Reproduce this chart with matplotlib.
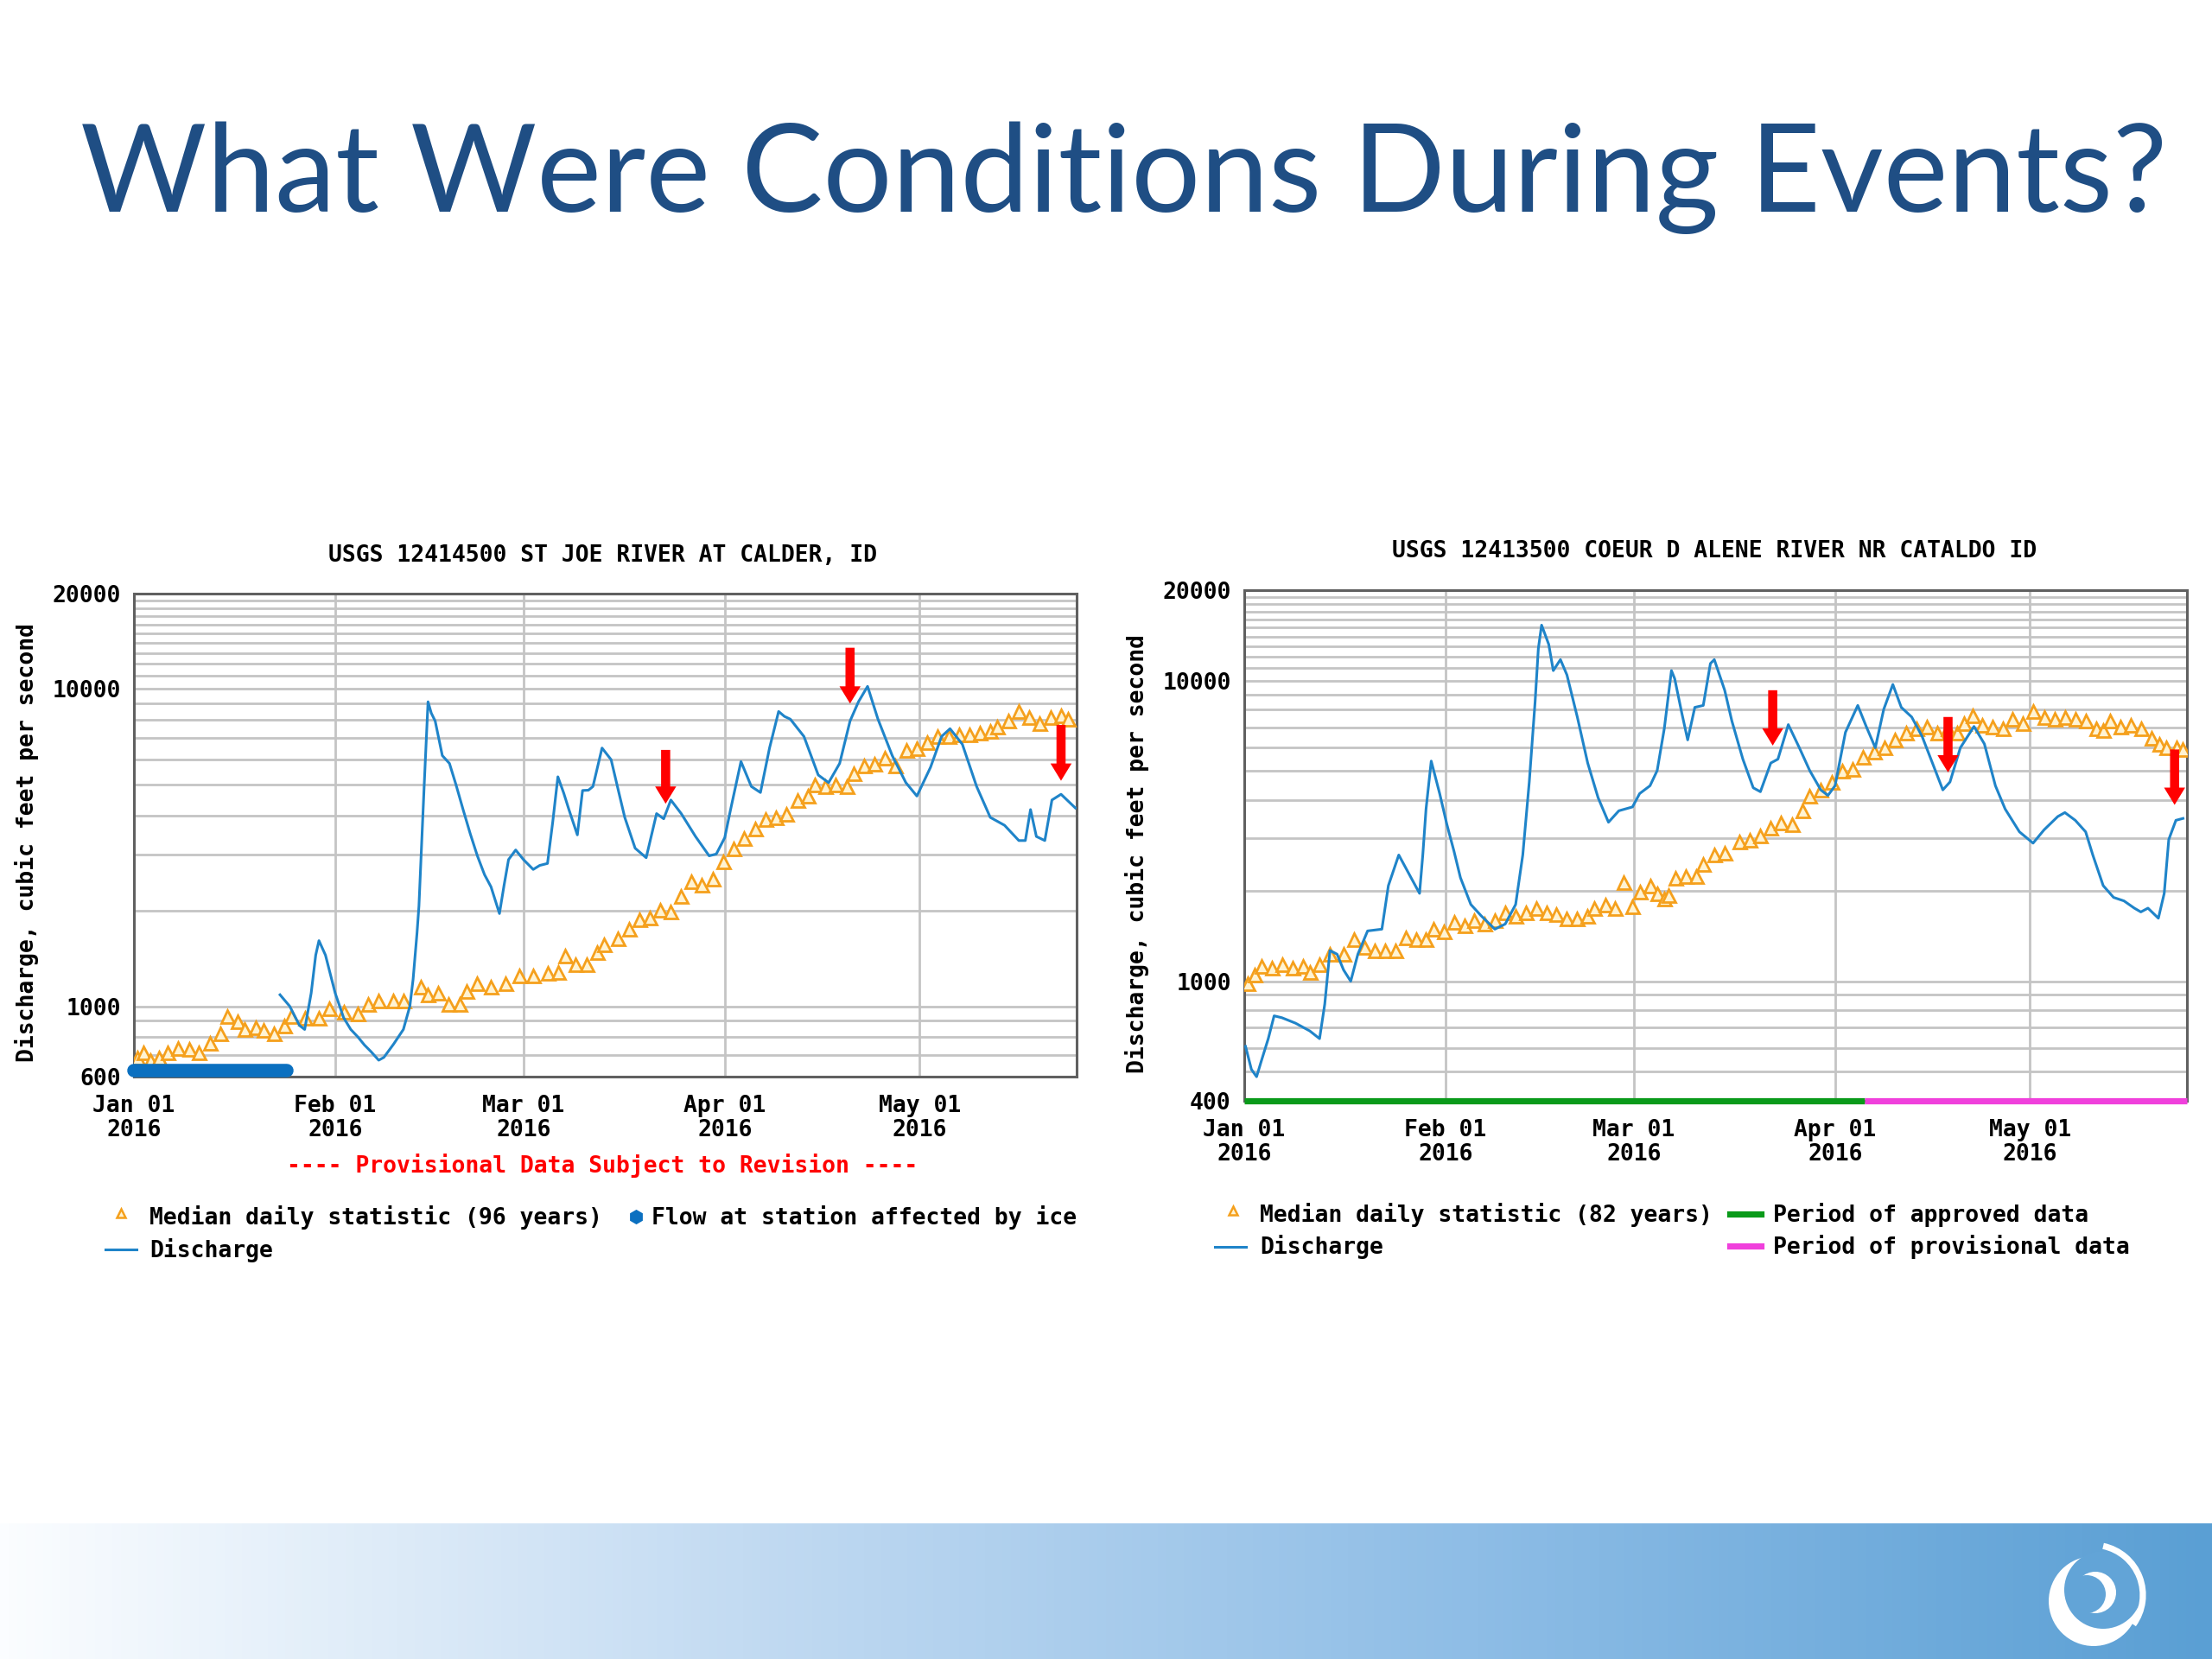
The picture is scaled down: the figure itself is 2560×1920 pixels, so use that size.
import numpy as np
import matplotlib.pyplot as plt
from matplotlib.lines import Line2D
from matplotlib.patches import Circle, Arc
from matplotlib.colors import LinearSegmentedColormap
from matplotlib.ticker import FixedLocator, NullFormatter

W, H = 2560, 1920
MONO = 'DejaVu Sans Mono'

# ---- St Joe River at Calder (days since Jan 01 2016, cfs)
joe_days = [22.5, 24.0, 25.5, 26.3, 27.3, 28.0, 28.5, 29.5, 31.0, 32.3, 33.4, 34.5, 35.5, 36.5,
            37.7, 38.5, 40.0, 41.5, 42.5, 43.0, 43.6, 43.9, 44.3, 44.7, 45.3, 45.8, 46.4, 47.5,
            48.6, 49.6, 50.7, 51.8, 52.9, 54.0, 55.0, 56.3, 57.0, 57.7, 58.8, 60.0, 61.5, 62.5,
            63.7, 64.5, 65.3, 66.2, 67.0, 68.3, 69.1, 70.0, 70.7, 72.1, 73.5, 74.5, 75.6, 77.2,
            78.9, 80.5, 81.6, 82.7, 84.3, 86.5, 88.6, 89.7, 91.0, 91.9, 93.5, 95.1, 96.5, 97.9,
            99.3, 100.2, 101.1, 103.2, 105.4, 107.0, 108.7, 110.3, 111.6, 113.0, 114.6, 116.8,
            118.9, 120.6, 122.7, 124.4, 125.7, 127.6, 129.8, 131.9, 134.1, 136.3, 137.3, 138.1,
            139.0, 140.3, 141.4, 142.8, 145.0]
joe_flow = [1087, 1000, 870, 845, 1100, 1450, 1610, 1450, 1100, 920, 845, 800, 755, 720,
            676, 690, 760, 845, 1000, 1216, 1700, 2070, 3200, 4930, 9120, 8400, 7930, 6170,
            5830, 5000, 4170, 3500, 2980, 2600, 2380, 1960, 2400, 2900, 3110, 2900, 2700, 2780,
            2820, 3800, 5290, 4700, 4170, 3470, 4790, 4800, 4930, 6520, 5990, 4900, 3940, 3150,
            2940, 4050, 3900, 4470, 4050, 3430, 2980, 3020, 3400, 4170, 5910, 4930, 4720, 6520,
            8500, 8200, 8040, 7090, 5360, 5070, 5830, 7930, 9120, 10200, 8040, 6170,
            5070, 4600, 5670, 7090, 7500, 6700, 4930, 3940, 3720, 3330, 3330, 4170,
            3430, 3330, 4470, 4660, 4220]
joe_med_days = [0.5, 1.4, 2.5, 3.8, 5.2, 6.8, 8.5, 10.0, 11.7, 13.3, 14.4, 16.0, 17.1, 18.7, 20.0,
                21.5, 23.1, 24.2, 26.3, 28.5, 30.1, 32.3, 34.5, 36.1, 37.7, 39.9, 41.5, 44.2,
                45.3, 46.9, 48.5, 50.2, 51.2, 52.9, 55.0, 57.2, 59.4, 61.5, 63.7, 65.3, 66.4,
                68.0, 69.7, 71.3, 72.4, 74.5, 76.2, 77.8, 79.4, 81.0, 82.7, 84.3, 85.9, 87.5,
                89.2, 90.8, 92.4, 94.0, 95.7, 97.3, 98.9, 100.5, 102.2, 103.8, 104.9, 106.5,
                108.1, 109.8, 110.8, 112.4, 114.1, 115.7, 117.3, 119.0, 120.6, 122.2, 123.8,
                125.5, 127.1, 128.7, 130.3, 131.9, 133.0, 134.7, 136.3, 137.9, 139.5, 141.2,
                142.8, 143.9]
joe_med = [690, 714, 676, 690, 714, 740, 733, 714, 767, 822, 933, 894, 845, 857, 840,
           822, 870, 933, 920, 920, 986, 960, 950, 1015, 1045, 1045, 1045, 1150,
           1087, 1100, 1015, 1015, 1113, 1180, 1150, 1180, 1250, 1250, 1270, 1280, 1440,
           1360, 1360, 1480, 1570, 1640, 1750, 1880, 1900, 2010, 1990, 2220, 2480, 2420,
           2520, 2860, 3150, 3380, 3620, 3880, 3940, 4050, 4470, 4600, 5000, 4930,
           5000, 4930, 5440, 5750, 5830, 6080, 5750, 6420, 6520, 6790, 7090,
           7090, 7190, 7190, 7290, 7390, 7610, 7930, 8500, 8150, 7800, 8150,
           8270, 8040]
joe_ice = [0, 23.5]
joe_arrow_days = [81.9, 110.3, 142.8]
joe_arrow_top = [6430, 13500, 7710]
joe_arrow_tip = [4350, 9000, 5140]

# ---- Coeur d'Alene River near Cataldo
cda_days = [0.2, 1.1, 1.9, 2.6, 3.7, 4.6, 5.8, 7.9, 10.1, 11.6, 12.4, 13.2, 14.3, 15.3, 16.4,
            17.5, 19.0, 21.2, 22.2, 23.8, 25.4, 27.0, 27.5, 28.0, 28.8, 30.1, 31.2, 32.3, 33.3,
            34.9, 36.5, 38.6, 40.2, 41.8, 42.9, 43.9, 44.8, 45.3, 45.8, 46.9, 47.6, 48.7, 49.7,
            51.3, 52.9, 54.5, 56.1, 57.7, 59.8, 60.9, 62.5, 63.6, 64.7, 65.8, 66.3, 67.4, 68.3,
            69.4, 70.7, 71.8, 72.4, 74.0, 75.1, 76.8, 78.4, 79.5, 81.1, 82.2, 83.8, 85.5, 87.1,
            88.8, 89.9, 91.0, 92.6, 94.5, 95.8, 97.2, 98.5, 99.9, 101.2, 102.8, 104.4, 106.0,
            107.6, 108.7, 110.3, 112.4, 114.0, 115.7, 117.2, 119.4, 121.5, 123.2, 125.3, 126.4,
            128.0, 129.6, 130.7, 132.3, 133.9, 135.5, 137.1, 138.1, 139.2, 140.8, 141.7, 142.4,
            143.5, 144.6]
cda_flow = [607, 509, 481, 540, 644, 767, 756, 725, 683, 644, 839, 1265, 1230, 1090, 1000,
            1230, 1470, 1490, 2080, 2630, 2270, 1960, 2630, 3740, 5400, 4210, 3330, 2710, 2210,
            1800, 1650, 1490, 1550, 1800, 2630, 4600, 8510, 12800, 15300, 13200, 10800, 11750, 10450,
            7570, 5320, 4080, 3380, 3690, 3800, 4210, 4470, 5020, 6930, 10800, 10150, 7790, 6350,
            8150, 8270, 11400, 11750, 9290, 7350, 5480, 4400, 4270, 5320, 5480, 7140, 5980, 5020,
            4330, 4150, 4470, 6730, 8270, 7040, 5980, 8030, 9710, 8150, 7570, 6530, 5320,
            4330, 4600, 5980, 7040, 6160, 4470, 3740, 3140, 2880, 3190, 3530, 3640,
            3430, 3140, 2630, 2080, 1900, 1850, 1750, 1700, 1750, 1620, 1960, 2960,
            3430, 3480]
cda_med_days = [0.5, 1.6, 2.6, 4.2, 5.8, 7.4, 9.0, 10.1, 11.6, 13.2, 15.3, 16.9, 18.5, 20.1,
                21.7, 23.3, 24.9, 26.5, 28.0, 29.1, 30.7, 32.3, 33.9, 35.4, 37.0, 38.6, 40.2,
                41.8, 43.4, 45.0, 46.6, 48.1, 49.7, 51.3, 52.9, 53.9, 55.6, 57.1, 58.4, 59.8,
                60.9, 62.5, 63.6, 64.7, 65.3, 66.4, 68.0, 69.6, 70.7, 72.4, 74.0, 76.2, 77.8,
                79.5, 81.1, 82.7, 84.4, 86.0, 87.1, 88.8, 90.5, 92.1, 93.7, 95.3, 97.0, 98.6,
                100.2, 101.9, 103.5, 105.1, 106.7, 108.3, 109.8, 110.9, 112.2, 113.6, 115.2,
                116.8, 118.3, 119.9, 121.5, 123.2, 124.8, 126.4, 128.0, 129.6, 131.2, 132.3,
                133.4, 135.0, 136.6, 138.2, 139.8, 140.9, 142.0, 143.6, 144.6]
cda_med = [986, 1050, 1125, 1110, 1140, 1110, 1125, 1075, 1140, 1230, 1230, 1380, 1300, 1265,
           1265, 1265, 1400, 1380, 1380, 1490, 1460, 1570, 1530, 1600, 1550, 1600, 1690,
           1650, 1690, 1750, 1690, 1670, 1620, 1620, 1650, 1750, 1800, 1750, 2140, 1770,
           1990, 2080, 1960, 1880, 1930, 2210, 2240, 2240, 2450, 2630, 2670, 2920, 2960,
           3050, 3230, 3380, 3330, 3690, 4150, 4330, 4600, 5020, 5090, 5560, 5810, 5980,
           6350, 6730, 6930, 7040, 6730, 6930, 6730, 7240, 7680, 7140, 7040,
           6930, 7460, 7240, 7910, 7570, 7460, 7570, 7460, 7350, 6930, 6840,
           7350, 7040, 7140, 6930, 6440, 6160, 5980, 5980, 5900]
cda_approved = [0, 95.6]
cda_provisional = [95.6, 145.2]
cda_arrow_days = [81.4, 108.4, 143.3]
cda_arrow_top = [9290, 7570, 5900]
cda_arrow_tip = [6080, 4950, 3860]

month_days = [0, 31, 60, 91, 121]
month_labels = ['Jan 01\n2016', 'Feb 01\n2016', 'Mar 01\n2016', 'Apr 01\n2016', 'May 01\n2016']

BLUE = '#1f84c9'
ORANGE = '#f5a01c'
TRI_FILL = '#fff3d2'


def fx(x):
    return x / W


def fy(y):
    return 1 - y / H


def ptext(x, y, s, **kw):
    kw.setdefault('family', MONO)
    kw.setdefault('fontweight', 'bold')
    kw.setdefault('fontsize', 9.5)
    return fig.text(fx(x), fy(y), s, **kw)


def chart(rect, ymin, yticks, minor):
    ax = fig.add_axes(rect)
    ax.set_yscale('log')
    ax.set_xlim(0, 145.2)
    ax.set_ylim(ymin, 20000)
    ax.set_yticks(yticks)
    ax.set_yticklabels([str(t) for t in yticks])
    ax.yaxis.set_minor_locator(FixedLocator(minor))
    ax.yaxis.set_minor_formatter(NullFormatter())
    ax.set_xticks(month_days)
    ax.set_xticklabels(month_labels, linespacing=1.1)
    ax.tick_params(length=0, which='both', labelsize=9.5)
    ax.tick_params(axis='y', pad=5.5)
    ax.tick_params(axis='x', pad=7.5)
    for lab in ax.get_xticklabels() + ax.get_yticklabels():
        lab.set_family(MONO)
        lab.set_fontweight('bold')
    ax.grid(True, which='both', axis='y', color='#c4c4c4', lw=1.0)
    ax.grid(True, which='major', axis='x', color='#c4c4c4', lw=1.0)
    ax.set_axisbelow(True)
    for sp in ax.spines.values():
        sp.set_color('#606060')
        sp.set_linewidth(1.1)
    return ax


def arrows(ax, days, tops, tips):
    for d, a, b in zip(days, tops, tips):
        ax.annotate('', xy=(d, b), xytext=(d, a), annotation_clip=False,
                    arrowprops=dict(arrowstyle='simple,head_length=0.36,head_width=0.44,tail_width=0.19',
                                    fc='#ff0000', ec='#ff0000', lw=0, shrinkA=0, shrinkB=0,
                                    mutation_scale=20), zorder=10)


fig = plt.figure(figsize=(12.8, 9.6), dpi=200)
fig.patch.set_facecolor('white')

# footer band
band_cmap = LinearSegmentedColormap.from_list('band', ['#fbfdff', '#c3dbf2', '#8ebde6', '#5a9fd4'])
band = fig.add_axes([0, 0, 1, 157 / H])
band.imshow(np.linspace(0, 1, 512)[None, :], aspect='auto', cmap=band_cmap, extent=[0, W, 0, 157])
band.axis('off')

# title
title = fig.text(fx(93), fy(245), 'What Were Conditions During Events?', family='Lato',
                 fontsize=54, color='#1f4e84', va='baseline', ha='left')
r = fig.canvas.get_renderer()
tw = title.get_window_extent(r).width
title.set_fontsize(54 * 2416 / tw)

# left chart
minor_joe = [700, 800, 900] + list(range(2000, 10000, 1000)) + list(range(11000, 20000, 1000))
ax1 = chart([fx(155), fy(1246), fx(1246) - fx(155), fy(687) - fy(1246)],
            600, [600, 1000, 10000, 20000], minor_joe)
ax1.plot(joe_med_days, joe_med, ls='none', marker='^', ms=5.4, mfc=TRI_FILL, mec=ORANGE, mew=1.0, zorder=3)
ax1.plot(joe_days, joe_flow, color=BLUE, lw=1.1, zorder=4)
ax1.plot(joe_ice, [627, 627], color='#0b70c0', lw=5.6, solid_capstyle='round', clip_on=False, zorder=5)
arrows(ax1, joe_arrow_days, joe_arrow_top, joe_arrow_tip)

ptext(698, 643, 'USGS 12414500 ST JOE RIVER AT CALDER, ID', ha='center', va='center')
ptext(31, 975, 'Discharge, cubic feet per second', ha='center', va='center', rotation=90)
ptext(697, 1349, '---- Provisional Data Subject to Revision ----', ha='center', va='center', color='#ff0000')

# left legend
fig.add_artist(Line2D([fx(140)], [fy(1404)], transform=fig.transFigure, marker='^', ms=3.8,
                      mfc=TRI_FILL, mec=ORANGE, mew=0.9, ls='none'))
ptext(173, 1409, 'Median daily statistic (96 years)', ha='left', va='center')
fig.add_artist(Line2D([fx(736)], [fy(1408)], transform=fig.transFigure, marker='h', ms=5,
                      mfc='#0b70c0', mec='#0b70c0', ls='none'))
ptext(754, 1409, 'Flow at station affected by ice', ha='left', va='center')
fig.add_artist(Line2D([fx(122), fx(158)], [fy(1446), fy(1446)], transform=fig.transFigure,
                      color=BLUE, lw=1.1))
ptext(173, 1447, 'Discharge', ha='left', va='center')

# right chart
minor_cda = [500, 600, 700, 800, 900] + list(range(2000, 10000, 1000)) + list(range(11000, 20000, 1000))
ax2 = chart([fx(1440), fy(1274), fx(2531) - fx(1440), fy(683) - fy(1274)],
            400, [400, 1000, 10000, 20000], minor_cda)
ax2.plot(cda_med_days, cda_med, ls='none', marker='^', ms=5.4, mfc=TRI_FILL, mec=ORANGE, mew=1.0, zorder=3)
ax2.plot(cda_days, cda_flow, color=BLUE, lw=1.1, zorder=4)
ax2.plot(cda_approved, [400, 400], color='#0a9a1a', lw=2.6, clip_on=False, zorder=6, solid_capstyle='butt')
ax2.plot(cda_provisional, [400, 400], color='#f040dc', lw=2.6, clip_on=False, zorder=6, solid_capstyle='butt')
arrows(ax2, cda_arrow_days, cda_arrow_top, cda_arrow_tip)

ptext(1984, 638, 'USGS 12413500 COEUR D ALENE RIVER NR CATALDO ID', ha='center', va='center')
ptext(1316, 988, 'Discharge, cubic feet per second', ha='center', va='center', rotation=90)

# right legend
fig.add_artist(Line2D([fx(1427)], [fy(1401)], transform=fig.transFigure, marker='^', ms=3.8,
                      mfc=TRI_FILL, mec=ORANGE, mew=0.9, ls='none'))
ptext(1458, 1406, 'Median daily statistic (82 years)', ha='left', va='center')
fig.add_artist(Line2D([fx(2002), fx(2038)], [fy(1405), fy(1405)], transform=fig.transFigure,
                      color='#0a9a1a', lw=2.6))
ptext(2052, 1406, 'Period of approved data', ha='left', va='center')
fig.add_artist(Line2D([fx(1406), fx(1442)], [fy(1443), fy(1443)], transform=fig.transFigure,
                      color=BLUE, lw=1.1))
ptext(1458, 1443, 'Discharge', ha='left', va='center')
fig.add_artist(Line2D([fx(2002), fx(2038)], [fy(1442), fy(1442)], transform=fig.transFigure,
                      color='#f040dc', lw=2.6))
ptext(2052, 1443, 'Period of provisional data', ha='left', va='center')

# logo (pixel coordinates)
lg = fig.add_axes([0, 0, 1, 1], zorder=20)
lg.set_xlim(0, W)
lg.set_ylim(H, 0)
lg.axis('off')
lg.patch.set_alpha(0)
bg = band_cmap(2428 / W)
lg.add_patch(Circle((2423, 1853), 52, color='white', lw=0))
lg.add_patch(Circle((2434, 1840), 45, color=bg, lw=0))
lg.add_patch(Circle((2425, 1843), 24, color='white', lw=0))
lg.add_patch(Circle((2415, 1845), 22, color=bg, lw=0))
lg.add_patch(Arc((2422, 1846), 116, 116, theta1=-78, theta2=36, color='white', lw=2.6))

fig.savefig('out.png', dpi=200, facecolor='white')
